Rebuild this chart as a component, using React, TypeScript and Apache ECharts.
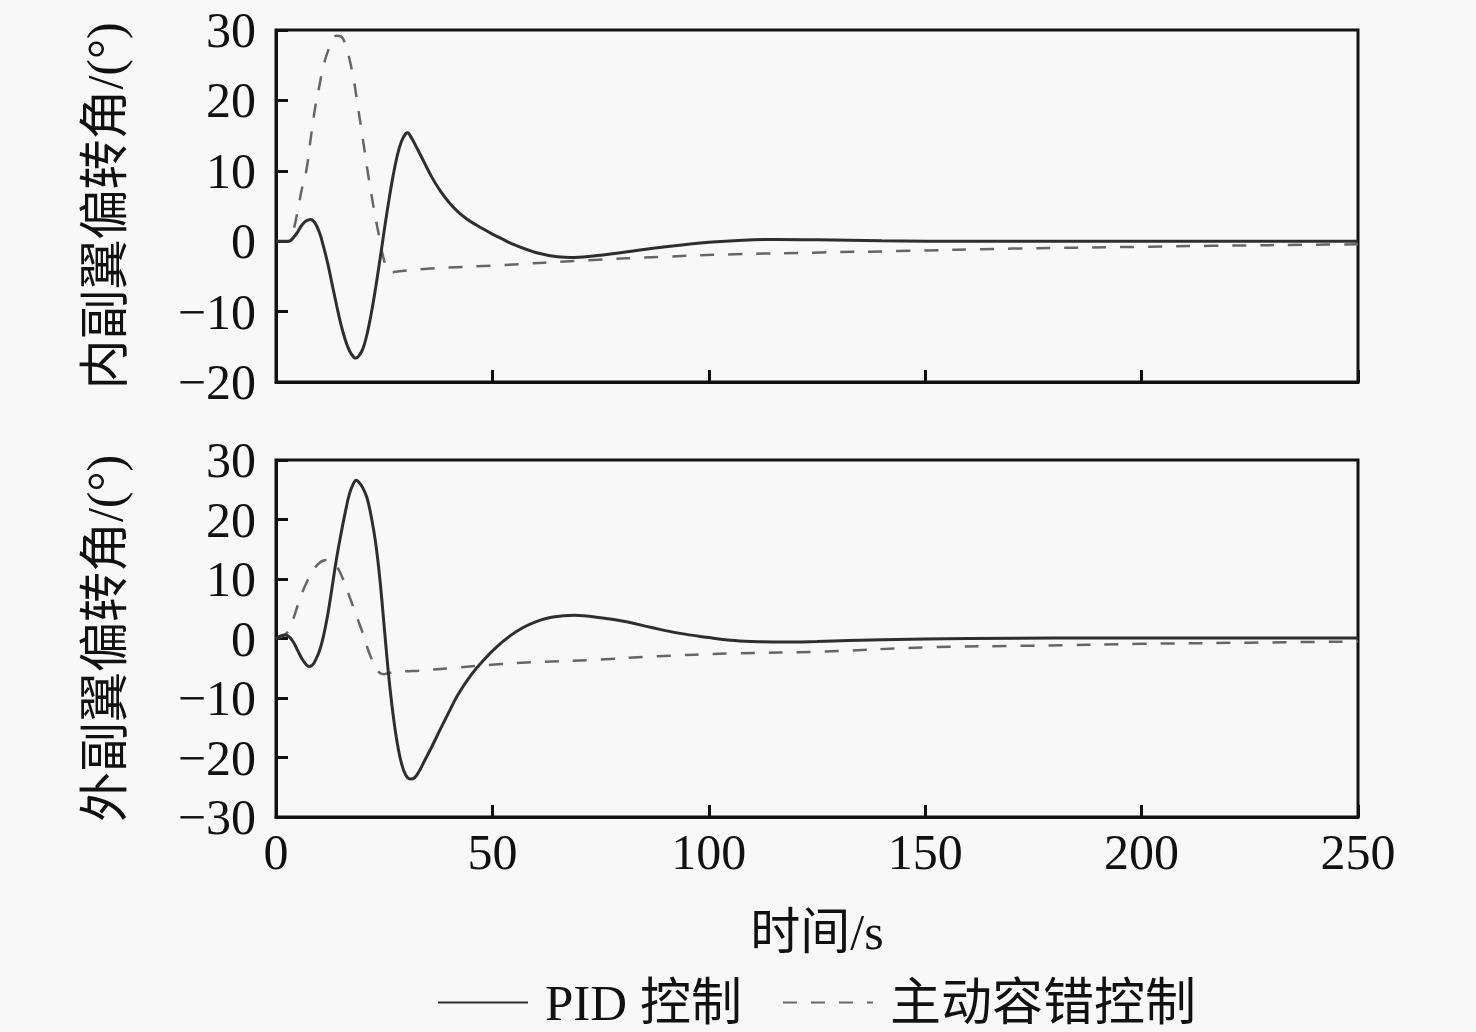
import React, { useEffect, useRef } from "react";
import * as echarts from "echarts";

// ---- data ----
const innerPidT = [0, 3, 4, 5, 6, 7, 8, 9, 10, 11, 12, 13, 14, 15, 16, 17, 18, 18.5, 19, 20, 21, 22, 23, 24, 25, 26, 27, 28, 29, 30, 30.5, 31, 32, 34, 36, 38, 40, 42, 44, 46, 48, 50, 52, 55, 60, 65, 69, 75, 80, 90, 100, 108, 116, 125, 140, 160, 200, 250];
const innerPidV = [0, 0, 0.5, 1.3, 2.3, 2.9, 3.1, 2.6, 1.3, -0.8, -3.3, -6.2, -9.1, -11.8, -14.0, -15.6, -16.5, -16.6, -16.4, -15.4, -13.3, -10.3, -6.7, -2.7, 1.5, 5.5, 9.1, 12.1, 14.2, 15.3, 15.4, 15.0, 13.9, 11.5, 9.1, 7.1, 5.5, 4.2, 3.2, 2.4, 1.7, 1.0, 0.4, -0.5, -1.6, -2.2, -2.3, -2.0, -1.6, -0.8, -0.15, 0.15, 0.25, 0.2, 0.05, 0, 0, 0];

const innerFtcT = [0, 3, 4, 5, 6, 7, 8, 9, 10, 11, 12, 13, 14, 15, 16, 17, 18, 19, 20, 21, 22, 23, 24, 25, 26, 27, 28, 35, 52, 72, 90, 106, 126, 144, 170, 200, 216, 243, 250];
const innerFtcV = [0, 0, 1.5, 4.3, 7.5, 10.0, 14.5, 18.8, 22.0, 25.0, 27.0, 28.5, 29.2, 29.1, 28.0, 25.8, 22.8, 18.8, 14.8, 10.6, 6.8, 3.3, 0.2, -2.8, -4.3, -4.4, -4.3, -3.9, -3.4, -2.7, -2.2, -1.85, -1.6, -1.4, -1.05, -0.8, -0.66, -0.47, -0.45];

const outerPidT = [0, 1, 2, 3, 4, 5, 6, 7, 7.7, 8.5, 9, 10, 11, 12, 13, 14, 15, 16, 17, 18, 18.5, 19, 20, 21, 22, 23, 24, 25, 26, 27, 28, 29, 30, 31, 32, 33, 34, 35, 36, 38, 40, 42, 45, 48, 51, 54, 57, 60, 64, 69, 75, 81, 87, 93, 100, 105, 110, 117, 125, 140, 160, 200, 250];
const outerPidV = [0, 0.4, 0.6, 0.3, -0.6, -2.0, -3.4, -4.4, -4.7, -4.4, -3.8, -2.2, 0.5, 4.2, 8.8, 13.5, 17.5, 21.2, 24.4, 26.2, 26.6, 26.4, 25.4, 23.7, 20.5, 16.2, 10.0, 2.0, -6.0, -12.5, -17.5, -21.0, -23.0, -23.6, -23.4, -22.4, -21.0, -19.6, -18.2, -15.2, -12.3, -9.5, -6.2, -3.6, -1.4, 0.4, 1.8, 2.8, 3.6, 3.9, 3.5, 2.8, 1.8, 0.9, 0.15, -0.3, -0.5, -0.6, -0.5, -0.2, 0, 0.1, 0.1];

const outerFtcT = [0, 2, 3, 4, 5, 6, 7, 8, 9, 10, 11, 12, 13, 14, 15, 16, 17, 18, 19, 20, 21, 22, 23, 24, 25, 26, 30, 33, 40, 52, 59, 73, 88, 106, 126, 150, 175, 200, 225, 250];
const outerFtcV = [0, 0.6, 1.5, 3.3, 5.5, 7.6, 9.3, 10.8, 11.9, 12.7, 13.1, 13.2, 12.9, 12.2, 10.8, 9.0, 7.0, 5.0, 3.0, 1.0, -1.3, -3.3, -4.8, -5.8, -6.0, -5.8, -5.5, -5.4, -5.0, -4.3, -4.0, -3.6, -3.0, -2.5, -2.2, -1.5, -1.2, -0.9, -0.7, -0.5];

const xTicks = [0, 50, 100, 150, 200, 250];
const seriesNames = ["PID 控制", "主动容错控制"];
const axisNames = ["内副翼偏转角/(°)", "外副翼偏转角/(°)", "时间/s"];

const pairs = (t: number[], v: number[]) => t.map((x, i) => [x, v[i]]);

const FONT = "'Liberation Serif', 'Noto Sans CJK SC', serif";
const BG = "#f8f8f8";
const SOLID = "#2e2e2e";
const DASH = "#666666";

const fmtY = (v: number) => (v < 0 ? "\u2212" + Math.abs(v) : String(v));

export default function App() {
  const ref = useRef<HTMLDivElement>(null);
  useEffect(() => {
    if (!ref.current) return;
    const chart = echarts.init(ref.current, undefined, { renderer: "svg" });
    const axisLine = { show: true, onZero: false, lineStyle: { color: "#111", width: 3 } };
    const axisTick = { show: true, inside: true, length: 12, lineStyle: { color: "#111", width: 3 } };
    const labelStyle = { fontFamily: FONT, fontSize: 50, color: "#111" };
    const xBase = {
      type: "value",
      min: xTicks[0],
      max: xTicks[xTicks.length - 1],
      interval: 50,
      axisLine,
      axisTick,
      splitLine: { show: false },
    };
    const yBase = {
      type: "value",
      interval: 10,
      axisLine,
      axisTick,
      splitLine: { show: false },
      axisLabel: { ...labelStyle, margin: 20, formatter: fmtY },
      nameLocation: "middle",
      nameRotate: 90,
      nameGap: 146,
      nameTextStyle: { fontFamily: FONT, fontSize: 50, color: "#111" },
    };
    const solidStyle = { color: SOLID, width: 3 };
    const dashStyle = { color: DASH, width: 2.5, type: [14, 14] };
    chart.setOption({
      animation: false,
      backgroundColor: BG,
      grid: [
        { left: 276, top: 30, width: 1082, height: 352, show: true, borderColor: "#111", borderWidth: 3, backgroundColor: "transparent" },
        { left: 276, top: 460, width: 1082, height: 357, show: true, borderColor: "#111", borderWidth: 3, backgroundColor: "transparent" },
      ],
      xAxis: [
        { ...xBase, gridIndex: 0, axisLabel: { show: false } },
        {
          ...xBase,
          gridIndex: 1,
          axisLabel: { ...labelStyle, margin: 10 },
          name: axisNames[2],
          nameLocation: "middle",
          nameGap: 90,
          nameTextStyle: { fontFamily: FONT, fontSize: 50, color: "#111" },
        },
      ],
      yAxis: [
        { ...yBase, gridIndex: 0, min: -20, max: 30, name: axisNames[0] },
        { ...yBase, gridIndex: 1, min: -30, max: 30, name: axisNames[1] },
      ],
      legend: {
        left: 432,
        top: 972,
        itemWidth: 90,
        itemHeight: 20,
        itemGap: 40,
        data: seriesNames,
        itemStyle: { color: "transparent", borderColor: "transparent", borderWidth: 0 },
        textStyle: { fontFamily: FONT, fontSize: 51, color: "#111", padding: [0, 0, 0, 12] },
      },
      series: [
        { name: seriesNames[0], type: "line", xAxisIndex: 0, yAxisIndex: 0, data: pairs(innerPidT, innerPidV), showSymbol: false, symbol: "none", smooth: 0.4, lineStyle: solidStyle, itemStyle: { color: SOLID }, z: 3 },
        { name: seriesNames[1], type: "line", xAxisIndex: 0, yAxisIndex: 0, data: pairs(innerFtcT, innerFtcV), showSymbol: false, symbol: "none", smooth: 0.4, lineStyle: dashStyle, itemStyle: { color: DASH }, z: 2 },
        { name: seriesNames[0], type: "line", xAxisIndex: 1, yAxisIndex: 1, data: pairs(outerPidT, outerPidV), showSymbol: false, symbol: "none", smooth: 0.4, lineStyle: solidStyle, itemStyle: { color: SOLID }, z: 3 },
        { name: seriesNames[1], type: "line", xAxisIndex: 1, yAxisIndex: 1, data: pairs(outerFtcT, outerFtcV), showSymbol: false, symbol: "none", smooth: 0.4, lineStyle: dashStyle, itemStyle: { color: DASH }, z: 2 },
      ],
    });
    return () => chart.dispose();
  }, []);
  return (
    <div
      ref={ref}
      style={{ position: "fixed", left: 0, top: 0, width: 1476, height: 1032, background: BG }}
    />
  );
}
